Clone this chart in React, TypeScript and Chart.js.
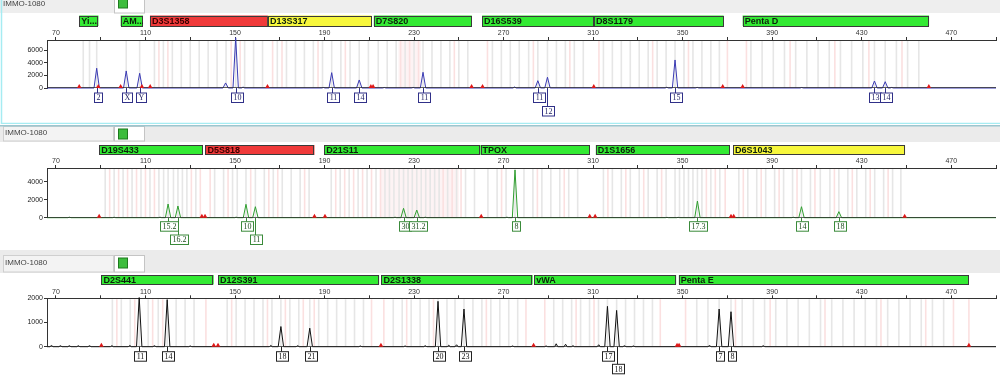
import React, { useEffect, useRef } from 'react';
import { Chart, registerables } from 'chart.js';
Chart.register(...registerables);

// ---------- shared axis data ----------
const X_MIN = 66;
const X_MAX = 490;
const xTickValues = [70, 90, 110, 130, 150, 170, 190, 210, 230, 250, 270, 290, 310, 330, 350, 370, 390, 410, 430, 450, 470, 490];
const xLabelValues = [70, 110, 150, 190, 230, 270, 310, 350, 390, 430, 470];
const sampleName = 'IMMO-1080';

// ---------- panel 1 (blue dye) ----------
const loci1Names = ['Yi...', 'AM...', 'D3S1358', 'D13S317', 'D7S820', 'D16S539', 'D8S1179', 'Penta D'];
const loci1Start = [80.4, 98.9, 112.0, 164.7, 212.0, 260.4, 310.4, 376.8];
const loci1End = [89.0, 108.9, 164.7, 211.0, 255.8, 310.4, 368.3, 460.1];
const loci1Color = ['g', 'g', 'r', 'y', 'g', 'g', 'g', 'g'];
const peaks1Bp = [88.2, 101.4, 107.4, 145.8, 150.3, 153.6, 189.5, 193.2, 205.5, 216.7, 229.6, 234, 274.9, 285.3, 289.6, 342.9, 346.6, 356.5, 403.2, 435.7, 440.5, 443.4];
const peaks1H = [3130, 2700, 2330, 800, 7950, 150, 80, 2430, 1270, 80, 90, 2490, 160, 1160, 1700, 120, 4440, 100, 80, 1110, 1000, 90];
const peaks1Label = ['2', 'X', 'Y', '', '10', '', '', '11', '14', '', '', '11', '', '11', '12', '', '15', '', '', '13', '14', ''];
const peaks1Row = [0, 0, 0, 0, 0, 0, 0, 0, 0, 0, 0, 0, 0, 0, 1, 0, 0, 0, 0, 0, 0, 0];
const marks1 = [80.4, 88.9, 98.9, 108.4, 112.1, 164.5, 210.7, 211.7, 255.7, 260.6, 310.3, 367.9, 376.8, 460.0];
const binsGrey1 = [82.2, 85, 88.2, 101.4, 107.4, 114, 118, 122, 126, 130, 134, 138, 142, 146, 150.3, 154.3, 158.3, 162.3, 168.9, 173, 177, 181, 185, 189.1, 193.2, 197.3, 201.4, 205.5, 209.6, 214, 218, 222, 226, 230, 234, 238, 242, 246, 250, 254, 265, 269, 273, 277, 281.2, 285.3, 289.6, 293.6, 297.6, 301.6, 305.6, 314.6, 318.6, 322.6, 326.6, 330.6, 334.6, 338.6, 342.6, 346.6, 350.6, 354.6, 358.6, 362.6, 366.4, 380.5, 385.5, 390.5, 395.5, 400.5, 405.5, 410.5, 415.5, 420.5, 425.5, 430.5, 435.7, 440.5, 445.5, 450.5, 455.5];
const binsPink1 = [116, 120, 148.3, 152.3, 166.8, 171, 187.1, 199.3, 224, 228, 232, 248, 262.8, 283.3, 299.6, 312.6, 336.6, 352.6, 370, 378.5, 398, 418, 433.2, 448];
const shade1 = [[223, 233]];

// ---------- panel 2 (green dye) ----------
const loci2Names = ['D19S433', 'D5S818', 'D21S11', 'TPOX', 'D1S1656', 'D6S1043'];
const loci2Start = [89.3, 136.8, 189.9, 259.7, 311.2, 372.5];
const loci2End = [135.7, 185.5, 259.7, 308.5, 371.0, 449.4];
const loci2Color = ['g', 'r', 'g', 'g', 'g', 'y'];
const peaks2Bp = [76, 96, 116.5, 120.1, 124.5, 150.5, 154.9, 159.1, 221.5, 225.3, 231.2, 235, 271.5, 275.1, 343, 348, 356.6, 399.5, 403.1, 419.8];
const peaks2H = [60, 50, 60, 1520, 1300, 60, 1490, 1220, 60, 1040, 850, 60, 60, 5300, 40, 40, 1850, 50, 1220, 670];
const peaks2Label = ['', '', '', '15.2', '16.2', '', '10', '11', '', '30', '31.2', '', '', '8', '', '', '17.3', '', '14', '18'];
const peaks2Row = [0, 0, 0, 0, 1, 0, 0, 1, 0, 0, 0, 0, 0, 0, 0, 0, 0, 0, 0, 0];
const marks2 = [89.3, 135.2, 136.6, 185.5, 190.2, 260.0, 308.5, 310.9, 371.6, 372.8, 449.2];
const binsGrey2 = [92, 96, 100, 104, 108, 112, 116, 118.1, 120.1, 122.5, 124.5, 126.5, 128.5, 132.5, 140.9, 144.9, 148.9, 151, 154.9, 159.1, 163.1, 167.1, 171.1, 175.1, 179.1, 183.1, 193, 197, 201, 205, 209, 213, 217, 219, 221, 223.3, 225.3, 227.3, 229.2, 231.2, 233.2, 235.2, 237.2, 239.2, 241.2, 245, 249, 253, 257, 263, 267.1, 271.1, 275.1, 279.1, 283.1, 287.1, 291.1, 295.1, 299.1, 303.1, 314.6, 318.6, 322.6, 326.6, 330.6, 334.6, 338.6, 342.6, 346.6, 348.6, 350.6, 352.6, 354.6, 356.6, 358.6, 362.6, 366.6, 375.1, 379.1, 383.1, 387.1, 391.1, 395.1, 399.1, 403.1, 407.1, 411.5, 415.8, 419.8, 423.8, 427.8, 431.8, 435.8, 439.8, 443.8, 447.5];
const binsPink2 = [94, 98, 102, 106, 110, 114, 130.5, 134.5, 138.9, 146.9, 157, 165.1, 169.1, 181.1, 195, 199, 203, 207, 211, 215, 243, 247, 251, 269.1, 285.1, 297.1, 316.6, 324.6, 332.6, 340.6, 360.6, 364.6, 369, 377.1, 385.1, 393.1, 401.1, 409.1, 417.8, 425.8, 433.8, 441.8];
const shade2 = [[215, 250]];

// ---------- panel 3 (black dye) ----------
const loci3Names = ['D2S441', 'D12S391', 'D2S1338', 'vWA', 'Penta E'];
const loci3Start = [90.3, 142.4, 215.4, 283.7, 348.3];
const loci3End = [140.5, 214.4, 283.0, 347.1, 477.9];
const loci3Color = ['g', 'g', 'g', 'g', 'g'];
const peaks3Bp = [68, 72, 76, 80, 85, 95, 103, 107.2, 114, 119.7, 130, 166, 170.5, 178, 183.4, 206, 226, 235, 240.7, 245.5, 249, 252.3, 274, 289, 293.5, 297.7, 301, 312.5, 316.4, 320.5, 324, 328, 362, 366.3, 371.6, 386];
const peaks3H = [50, 40, 40, 40, 40, 40, 50, 2030, 40, 1945, 30, 50, 833, 40, 765, 30, 30, 40, 1875, 60, 80, 1557, 30, 30, 120, 100, 40, 80, 1667, 1500, 40, 30, 50, 1557, 1445, 40];
const peaks3Label = ['', '', '', '', '', '', '', '11', '', '14', '', '', '18', '', '21', '', '', '', '20', '', '', '23', '', '', '', '', '', '', '17', '18', '', '', '', '7', '8', ''];
const peaks3Row = [0, 0, 0, 0, 0, 0, 0, 0, 0, 0, 0, 0, 0, 0, 0, 0, 0, 0, 0, 0, 0, 0, 0, 0, 0, 0, 0, 0, 0, 1, 0, 0, 0, 0, 0, 0];
const marks3 = [90.3, 140.5, 142.4, 215.2, 283.4, 347.5, 348.4, 477.9];
const binsGrey3 = [95.2, 99.2, 103.2, 107.2, 111.2, 115.7, 119.7, 123.7, 127.7, 131.7, 146.5, 150.5, 154.5, 158.5, 162.5, 166.5, 170.5, 174.5, 178.5, 183.4, 187.4, 191.4, 195.4, 199.4, 203.4, 207.4, 220.7, 224.7, 228.7, 232.7, 236.7, 240.7, 244.7, 248.3, 252.3, 256.3, 260.3, 264.3, 268.3, 272.3, 276.3, 292.4, 296.4, 300.4, 304.4, 308.4, 312.4, 316.4, 320.5, 324.5, 328.5, 332.5, 336.5, 356.3, 361.3, 366.3, 371.6, 376.6, 381.6, 386.6, 391.6, 396.6, 401.6, 406.6, 411.6, 416.6, 421.6, 426.6, 431.6, 436.6, 441.6, 446.6, 451.6, 456.6, 461.6, 466.6];
const binsPink3 = [97.2, 105.2, 113.2, 117.7, 137, 148.5, 164.5, 172.5, 180.5, 185.4, 211, 216.5, 226.7, 238.7, 262.3, 280, 288.4, 302.4, 310.4, 340, 351.3, 373.6, 389.1, 413.6, 438.6, 458.6, 471, 477.9];
const shade3: number[][] = [];

const LOCUS_FILL: Record<string, string> = { g: '#33ea33', r: '#f03a3a', y: '#f7f73c' };

type PanelCfg = {
  top: number; height: number; axisTop: number; baseline: number;
  yMax: number; yTicks: number[];
  barTop: number; barH: number;
  header: 1 | 2 | 3;
  box0: number; box1: number;
  color: string; boxColor: string; textColor: string;
  lociNames: string[]; lociStart: number[]; lociEnd: number[]; lociColor: string[];
  bp: number[]; h: number[]; labels: string[]; rows: number[];
  marks: number[]; binsGrey: number[]; binsPink: number[]; shade: number[][];
};

const panels: PanelCfg[] = [
  {
    top: 0, height: 124, axisTop: 40, baseline: 88, yMax: 7600, yTicks: [0, 2000, 4000, 6000],
    barTop: 15.5, barH: 10.5, header: 1, box0: 93, box1: 106.5,
    color: '#3a3ab4', boxColor: '#303088', textColor: '#1c1c60',
    lociNames: loci1Names, lociStart: loci1Start, lociEnd: loci1End, lociColor: loci1Color,
    bp: peaks1Bp, h: peaks1H, labels: peaks1Label, rows: peaks1Row,
    marks: marks1, binsGrey: binsGrey1, binsPink: binsPink1, shade: shade1,
  },
  {
    top: 125, height: 125, axisTop: 43, baseline: 92.7, yMax: 5520, yTicks: [0, 2000, 4000],
    barTop: 20, barH: 10, header: 2, box0: 96.7, box1: 110,
    color: '#2f9e2f', boxColor: '#3a8a3a', textColor: '#1c4c1c',
    lociNames: loci2Names, lociStart: loci2Start, lociEnd: loci2End, lociColor: loci2Color,
    bp: peaks2Bp, h: peaks2H, labels: peaks2Label, rows: peaks2Row,
    marks: marks2, binsGrey: binsGrey2, binsPink: binsPink2, shade: shade2,
  },
  {
    top: 250, height: 125, axisTop: 48.3, baseline: 96.7, yMax: 2000, yTicks: [0, 1000, 2000],
    barTop: 25, barH: 9.5, header: 3, box0: 101.7, box1: 114.3,
    color: '#111111', boxColor: '#222222', textColor: '#111111',
    lociNames: loci3Names, lociStart: loci3Start, lociEnd: loci3End, lociColor: loci3Color,
    bp: peaks3Bp, h: peaks3H, labels: peaks3Label, rows: peaks3Row,
    marks: marks3, binsGrey: binsGrey3, binsPink: binsPink3, shade: shade3,
  },
];

function buildTrace(bp: number[], h: number[]) {
  const pts: { x: number; y: number }[] = [{ x: X_MIN, y: 0 }];
  bp.forEach((b, i) => {
    const w = h[i] > 300 ? 1.2 : 0.7;
    pts.push({ x: b - w, y: 0 }, { x: b, y: h[i] }, { x: b + w, y: 0 });
  });
  pts.push({ x: X_MAX, y: 0 });
  return pts;
}

function makePlugin(cfg: PanelCfg) {
  return {
    id: 'panelDeco',
    beforeDraw(chart: any) {
      const ctx = chart.ctx;
      const xs = chart.scales.x;
      const W = chart.width;
      ctx.save();
      ctx.fillStyle = '#ffffff';
      ctx.fillRect(0, 0, W, chart.height);
      // header
      ctx.font = '8px "Liberation Sans", Arial, sans-serif';
      ctx.textBaseline = 'middle';
      if (cfg.header === 1) {
        ctx.fillStyle = '#eeeeee';
        ctx.fillRect(0, 0, W, 13);
        ctx.fillStyle = '#444';
        ctx.fillText(sampleName, 3, 4);
        ctx.fillStyle = '#ffffff';
        ctx.fillRect(114.5, -1, 30, 14);
        ctx.strokeStyle = '#c4c4c4';
        ctx.strokeRect(114.5, -1, 30, 14);
        ctx.fillStyle = '#3dbd3d';
        ctx.fillRect(118, -2, 10, 10);
        ctx.strokeStyle = '#1f7a1f';
        ctx.strokeRect(118.5, -2, 9, 10);
      } else {
        const y0 = cfg.header === 2 ? 1.5 : 5.5;
        const hh = cfg.header === 2 ? 14.5 : 16.5;
        ctx.fillStyle = '#ebebeb';
        ctx.fillRect(0, 0, W, y0 + hh + 1);
        ctx.fillStyle = '#f3f3f3';
        ctx.fillRect(3.5, y0, 110, hh);
        ctx.strokeStyle = '#cfcfcf';
        ctx.strokeRect(3.5, y0, 110, hh);
        ctx.fillStyle = '#444';
        ctx.fillText(sampleName, 5, y0 + hh / 2 - 1);
        ctx.fillStyle = '#ffffff';
        ctx.fillRect(114.5, y0, 30, hh);
        ctx.strokeStyle = '#c4c4c4';
        ctx.strokeRect(114.5, y0, 30, hh);
        ctx.fillStyle = '#3dbd3d';
        ctx.fillRect(118, y0 + 2.5, 10, 10);
        ctx.strokeStyle = '#1f7a1f';
        ctx.strokeRect(118.5, y0 + 2.5, 9, 10);
        if (cfg.header === 2) {
          ctx.strokeStyle = '#9cc6cf';
          ctx.lineWidth = 1.5;
          ctx.beginPath();
          ctx.moveTo(0, 0.75);
          ctx.lineTo(W, 0.75);
          ctx.stroke();
          ctx.lineWidth = 1;
        }
      }
      // locus bars
      ctx.font = 'bold 9px "Liberation Sans", Arial, sans-serif';
      cfg.lociNames.forEach((name, i) => {
        const x1 = xs.getPixelForValue(cfg.lociStart[i]);
        const x2 = xs.getPixelForValue(cfg.lociEnd[i]);
        ctx.fillStyle = LOCUS_FILL[cfg.lociColor[i]];
        ctx.fillRect(x1, cfg.barTop, x2 - x1, cfg.barH);
        ctx.strokeStyle = '#3a3a3a';
        ctx.lineWidth = 1;
        ctx.strokeRect(Math.round(x1) + 0.5, Math.round(cfg.barTop) + 0.5, Math.round(x2 - x1) - 1, Math.round(cfg.barH) - 1);
        ctx.fillStyle = cfg.lociColor[i] === 'r' ? '#3a0000' : '#0c200c';
        ctx.save();
        ctx.beginPath();
        ctx.rect(x1, cfg.barTop, x2 - x1, cfg.barH);
        ctx.clip();
        ctx.fillText(name, x1 + 2, cfg.barTop + cfg.barH / 2 + 0.5);
        ctx.restore();
      });
      ctx.restore();
    },
    beforeDatasetsDraw(chart: any) {
      const ctx = chart.ctx;
      const xs = chart.scales.x;
      const a = chart.chartArea;
      ctx.save();
      cfg.shade.forEach((s) => {
        const x1 = xs.getPixelForValue(s[0]);
        const x2 = xs.getPixelForValue(s[1]);
        ctx.fillStyle = 'rgba(245,200,205,0.22)';
        ctx.fillRect(x1, a.top + 1, x2 - x1, a.bottom - a.top - 1);
      });
      ctx.lineWidth = 1.6;
      ctx.strokeStyle = '#fbe0e0';
      cfg.binsPink.forEach((b) => {
        const x = xs.getPixelForValue(b);
        ctx.beginPath();
        ctx.moveTo(x, a.top + 1);
        ctx.lineTo(x, a.bottom);
        ctx.stroke();
      });
      ctx.strokeStyle = '#e6e6e6';
      cfg.binsGrey.forEach((b) => {
        const x = xs.getPixelForValue(b);
        ctx.beginPath();
        ctx.moveTo(x, a.top + 1);
        ctx.lineTo(x, a.bottom);
        ctx.stroke();
      });
      ctx.restore();
    },
    afterDraw(chart: any) {
      const ctx = chart.ctx;
      const xs = chart.scales.x;
      const a = chart.chartArea;
      ctx.save();
      ctx.font = '8px "Liberation Serif", "Times New Roman", serif';
      ctx.textBaseline = 'middle';
      ctx.textAlign = 'center';
      cfg.labels.forEach((lab, i) => {
        if (!lab) return;
        const x = Math.round(xs.getPixelForValue(cfg.bp[i])) + 0.5;
        const top = cfg.rows[i] === 0 ? cfg.box0 : cfg.box1;
        const tw = ctx.measureText(lab).width;
        const w = Math.round(tw + 4);
        const h = 9.5;
        ctx.strokeStyle = cfg.boxColor;
        ctx.lineWidth = 1;
        ctx.beginPath();
        ctx.moveTo(x, a.bottom);
        ctx.lineTo(x, top);
        ctx.stroke();
        const bx = Math.round(x - w / 2) + 0.5;
        ctx.fillStyle = '#ffffff';
        ctx.fillRect(bx, top, w, h);
        ctx.strokeRect(bx, top, w, h);
        ctx.fillStyle = cfg.textColor;
        ctx.fillText(lab, bx + w / 2, top + h / 2 + 0.5);
      });
      if (cfg.header === 1) {
        ctx.strokeStyle = '#a6ecf2';
        ctx.lineWidth = 1.5;
        ctx.beginPath();
        ctx.moveTo(1.5, 0);
        ctx.lineTo(1.5, 123.5);
        ctx.lineTo(chart.width, 123.5);
        ctx.stroke();
      }
      ctx.restore();
    },
  };
}

function Panel({ cfg }: { cfg: PanelCfg }) {
  const ref = useRef<HTMLCanvasElement | null>(null);
  useEffect(() => {
    const canvas = ref.current;
    if (!canvas) return;
    const chart = new Chart(canvas, {
      type: 'scatter',
      data: {
        datasets: [
          {
            data: cfg.marks.map((m) => ({ x: m, y: 0 })),
            showLine: false,
            pointStyle: 'triangle',
            pointRadius: 4,
            backgroundColor: '#e01818',
            borderColor: '#c00000',
            borderWidth: 0,
            order: 0,
          },
          {
            data: [{ x: X_MIN, y: 0 }, { x: X_MAX, y: 0 }],
            showLine: true,
            borderColor: '#2a2a2a',
            borderWidth: 1.5,
            pointRadius: 0,
            order: 1,
          },
          {
            data: buildTrace(cfg.bp, cfg.h),
            showLine: true,
            borderColor: cfg.color,
            borderWidth: 1,
            pointRadius: 0,
            tension: 0,
            clip: { left: 0, top: 5, right: 0, bottom: 2 },
            order: 2,
          },
        ] as any,
      },
      options: {
        animation: false,
        responsive: false,
        maintainAspectRatio: false,
        events: [],
        layout: { padding: { top: cfg.axisTop - 10, bottom: cfg.height - cfg.baseline, left: 0, right: 0 } },
        plugins: { legend: { display: false }, tooltip: { enabled: false } },
        scales: {
          x: {
            type: 'linear',
            position: 'top',
            min: X_MIN,
            max: X_MAX,
            afterBuildTicks: (s: any) => { s.ticks = xTickValues.map((v) => ({ value: v })); },
            afterFit: (s: any) => { s.height = 10; },
            ticks: {
              callback: (v: any) => (xLabelValues.includes(Number(v)) ? String(v) : ''),
              font: { size: 7, family: '"Liberation Sans", Arial, sans-serif', lineHeight: 1 },
              color: '#333',
              padding: 0,
              maxRotation: 0,
              autoSkip: false,
            },
            grid: { drawOnChartArea: false, tickLength: 3, color: '#333' },
            border: { color: '#333', width: 1 },
          },
          y: {
            type: 'linear',
            min: 0,
            max: cfg.yMax,
            afterBuildTicks: (s: any) => { s.ticks = cfg.yTicks.map((v) => ({ value: v })); },
            afterFit: (s: any) => { s.width = 47; },
            ticks: {
              font: { size: 7, family: '"Liberation Sans", Arial, sans-serif' },
              color: '#222',
              padding: 1,
              callback: (v: any) => String(v),
            },
            grid: { drawOnChartArea: false, tickLength: 3, color: '#333' },
            border: { color: '#333', width: 1 },
          },
        },
      } as any,
      plugins: [makePlugin(cfg)],
    });
    return () => chart.destroy();
  }, [cfg]);
  return (
    <canvas
      ref={ref}
      width={1000}
      height={cfg.height}
      style={{ position: 'absolute', left: 0, top: cfg.top, width: 1000, height: cfg.height, display: 'block' }}
    />
  );
}

export default function App() {
  return (
    <div style={{ position: 'absolute', left: 0, top: 0, width: 1000, height: 375, background: '#ffffff', overflow: 'hidden' }}>
      {panels.map((p, i) => (
        <Panel key={i} cfg={p} />
      ))}
    </div>
  );
}
